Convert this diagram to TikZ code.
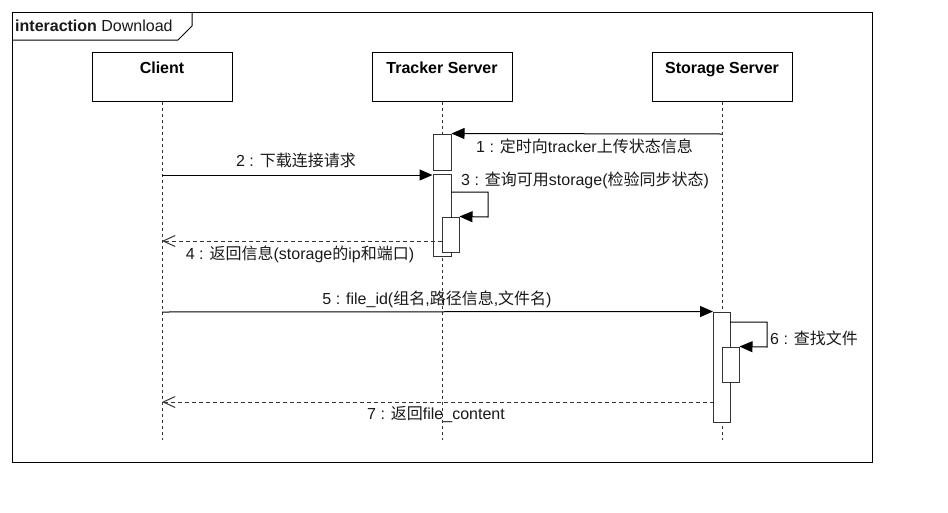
\documentclass[tikz,border=0pt]{standalone}
\usepackage{fontspec}
\setmainfont{Liberation Sans}
\newfontfamily\cjkf{Noto Sans CJK SC}
\newcommand\zh[1]{{\cjkf #1}}
\usetikzlibrary{arrows.meta}
\definecolor{ln}{HTML}{333333}
\tikzset{
  every node/.style={font=\fontsize{16}{19}\selectfont, inner sep=0pt},
  head/.style={draw=black, fill=white, line width=1pt, minimum width=140pt, minimum height=49pt, anchor=north},
  headtxt/.style={font=\fontsize{16}{19}\selectfont\bfseries, text height=11.5pt, text depth=0pt},
  lbl/.style={text height=11.5pt, text depth=0pt, text=black!90},
  lifeline/.style={draw=ln, line width=1pt, dash pattern=on 3pt off 3pt},
  actbar/.style={draw=ln, fill=white, line width=1pt, minimum width=17pt},
  msg/.style={draw=black, line width=1pt, -{Triangle[length=13pt,width=11pt]}},
  ret/.style={draw=ln, line width=1pt, dash pattern=on 4pt off 3pt, -{Straight Barb[length=12pt,width=11pt]}},
}
\begin{document}
\begin{tikzpicture}[x=1pt,y=-1pt]
\useasboundingbox (0,0) rectangle (948,512);
% frame
\draw[black, line width=1pt] (12,12) rectangle (872,462);
\draw[black, line width=1pt] (12,40) -- (178,40) -- (192,26) -- (192,12);
\node[lbl, anchor=west] (title) at (15,26) {\textbf{interaction} Download};
% heads
\node[head] (client) at (162,52) {};
\node[head] (tracker) at (442,52) {};
\node[head] (storage) at (722,52) {};
\node[headtxt] (clientt) at (162,68) {Client};
\node[headtxt] (trackert) at (442,68) {Tracker Server};
\node[headtxt] (storaget) at (722,68) {Storage Server};
% lifelines
\coordinate (cend) at (162,440);
\coordinate (tend) at (442,440);
\coordinate (send) at (722,440);
\draw[lifeline] (client.south) -- (cend);
\draw[lifeline] (tracker.south) -- (tend);
\draw[lifeline] (storage.south) -- (send);
% activation bars
\node[actbar, minimum width=18pt, minimum height=36pt] (t1) at (442,152) {};
\node[actbar, minimum width=18pt, minimum height=82pt] (t2) at (442,215) {};
\node[actbar, minimum height=110pt] (s1) at (722,367) {};
% self call 3
\coordinate (c3a) at (451,192);
\coordinate (c3b) at (488,192);
\coordinate (c3c) at (488,217);
\node[actbar, minimum height=35pt] (t3) at (450.5,234.5) {};
\draw[msg] (c3a) -- (c3b) -- (c3c) -- (t3.north east);
% self call 6
\coordinate (c6a) at (730,322);
\coordinate (c6b) at (767,322);
\coordinate (c6c) at (767,347);
\node[actbar, minimum height=35pt] (s2) at (730.5,364.5) {};
\draw[msg] (c6a) -- (c6b) -- (c6c) -- (s2.north east);
% messages
\coordinate (m1s) at (722,134);
\draw[msg] (m1s) -- (t1.north east);
\node[lbl] (l1) at (584.5,147) {1 : \zh{定时向}tracker\zh{上传状态信息}};
\coordinate (m2s) at (162,175);
\draw[msg] (m2s) -- (t2.north west |- m2s);
\node[lbl] (l2) at (296,161) {2 : \zh{下载连接请求}};
\node[lbl, anchor=west] (l3) at (461,180) {3 : \zh{查询可用}storage(\zh{检验同步状态})};
\coordinate (m4s) at (442,241);
\coordinate (m4e) at (162,241);
\draw[ret] (m4s) -- (m4e);
\node[lbl] (l4) at (300,254) {4 : \zh{返回信息}(storage\zh{的}ip\zh{和端口})};
\coordinate (m5s) at (162,312);
\draw[msg] (m5s) -- (s1.north west);
\node[lbl] (l5) at (437,299) {5 : file\_id(\zh{组名},\zh{路径信息},\zh{文件名})};
\node[lbl, anchor=west] (l6) at (770,339) {6 : \zh{查找文件}};
\coordinate (m7s) at (713.5,402);
\coordinate (m7e) at (162,402);
\draw[ret] (m7s) -- (m7e);
\node[lbl] (l7) at (436,414) {7 : \zh{返回}file\_content};
\end{tikzpicture}
\end{document}
